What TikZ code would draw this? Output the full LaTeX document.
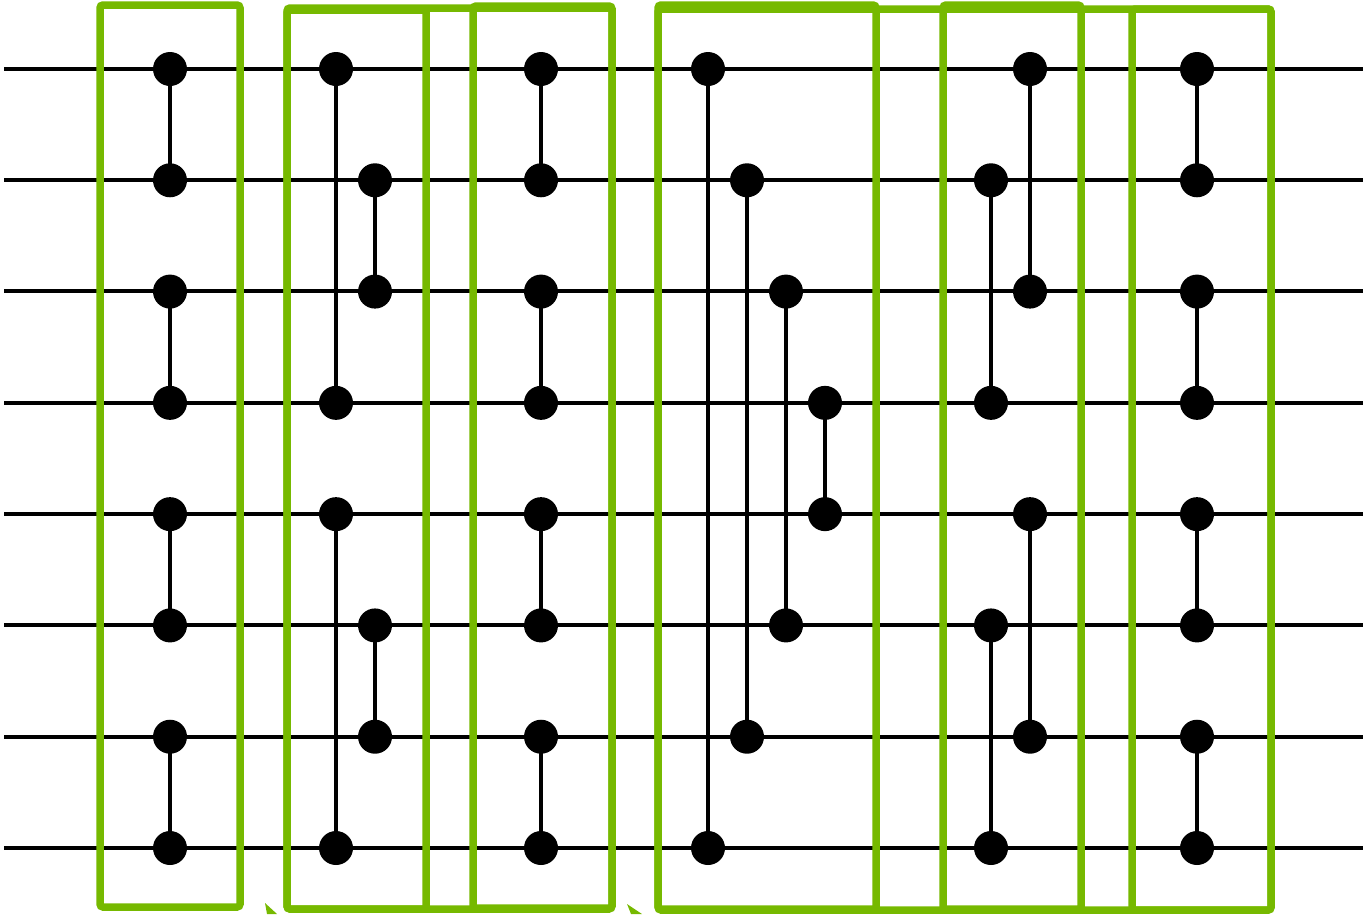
\documentclass[tikz,border=0pt]{standalone}
\definecolor{nvgreen}{HTML}{76B900}
\tikzset{
  wire/.style={line width=3.6pt, black},
  dot/.style={circle, fill=black, inner sep=0pt, minimum size=34pt},
  link/.style={line width=3.6pt, black},
  grp/.style={draw=nvgreen, line width=7.5pt, rounded corners=3pt},
  tip/.style={fill=nvgreen, draw=none}
}
\begin{document}
\begin{tikzpicture}[x=1pt,y=-1pt]
\useasboundingbox (0,0) rectangle (1363,914);
% wires
\foreach \r/\y in {0/69,1/180,2/291,3/403,4/514,5/625,6/737,7/848}{
  \coordinate (wl\r) at (4,\y);
  \coordinate (wr\r) at (1363,\y);
  \draw[wire] (wl\r) -- (wr\r);
}
% comparators: name/x/rowA/rowB
\foreach \n/\x/\a/\b in {
  a1/170/0/1, a2/170/2/3, a3/170/4/5, a4/170/6/7,
  b1/336/0/3, b2/336/4/7, b3/375/1/2, b4/375/5/6,
  c1/541/0/1, c2/541/2/3, c3/541/4/5, c4/541/6/7,
  d1/708/0/7, d2/747/1/6, d3/786/2/5, d4/825/3/4,
  e1/991/1/3, e2/991/5/7, e3/1030/0/2, e4/1030/4/6,
  f1/1197/0/1, f2/1197/2/3, f3/1197/4/5, f4/1197/6/7}{
  \node[dot] (\n top) at (\x, {69+111.2857*\a}) {};
  \node[dot] (\n bot) at (\x, {69+111.2857*\b}) {};
  \draw[link] (\n top.center) -- (\n bot.center);
}
% green group boxes
\draw[grp] (100,5) rectangle (240,907);
\draw[grp] (287,8) rectangle (612,909);
\draw[grp] (287,10) rectangle (426,909);
\draw[grp] (473,6) rectangle (612,908);
\draw[grp] (658,9) rectangle (1271,910);
\draw[grp] (658,5) rectangle (876,909);
\draw[grp] (943,5) rectangle (1081,909);
\draw[grp] (1132,9) rectangle (1271,910);
% cropped arrow tips at the bottom edge
\fill[tip] (265,903) -- (277,914) -- (267,914) -- cycle;
\fill[tip] (627,904) -- (642,914) -- (631,914) -- cycle;
\end{tikzpicture}
\end{document}
